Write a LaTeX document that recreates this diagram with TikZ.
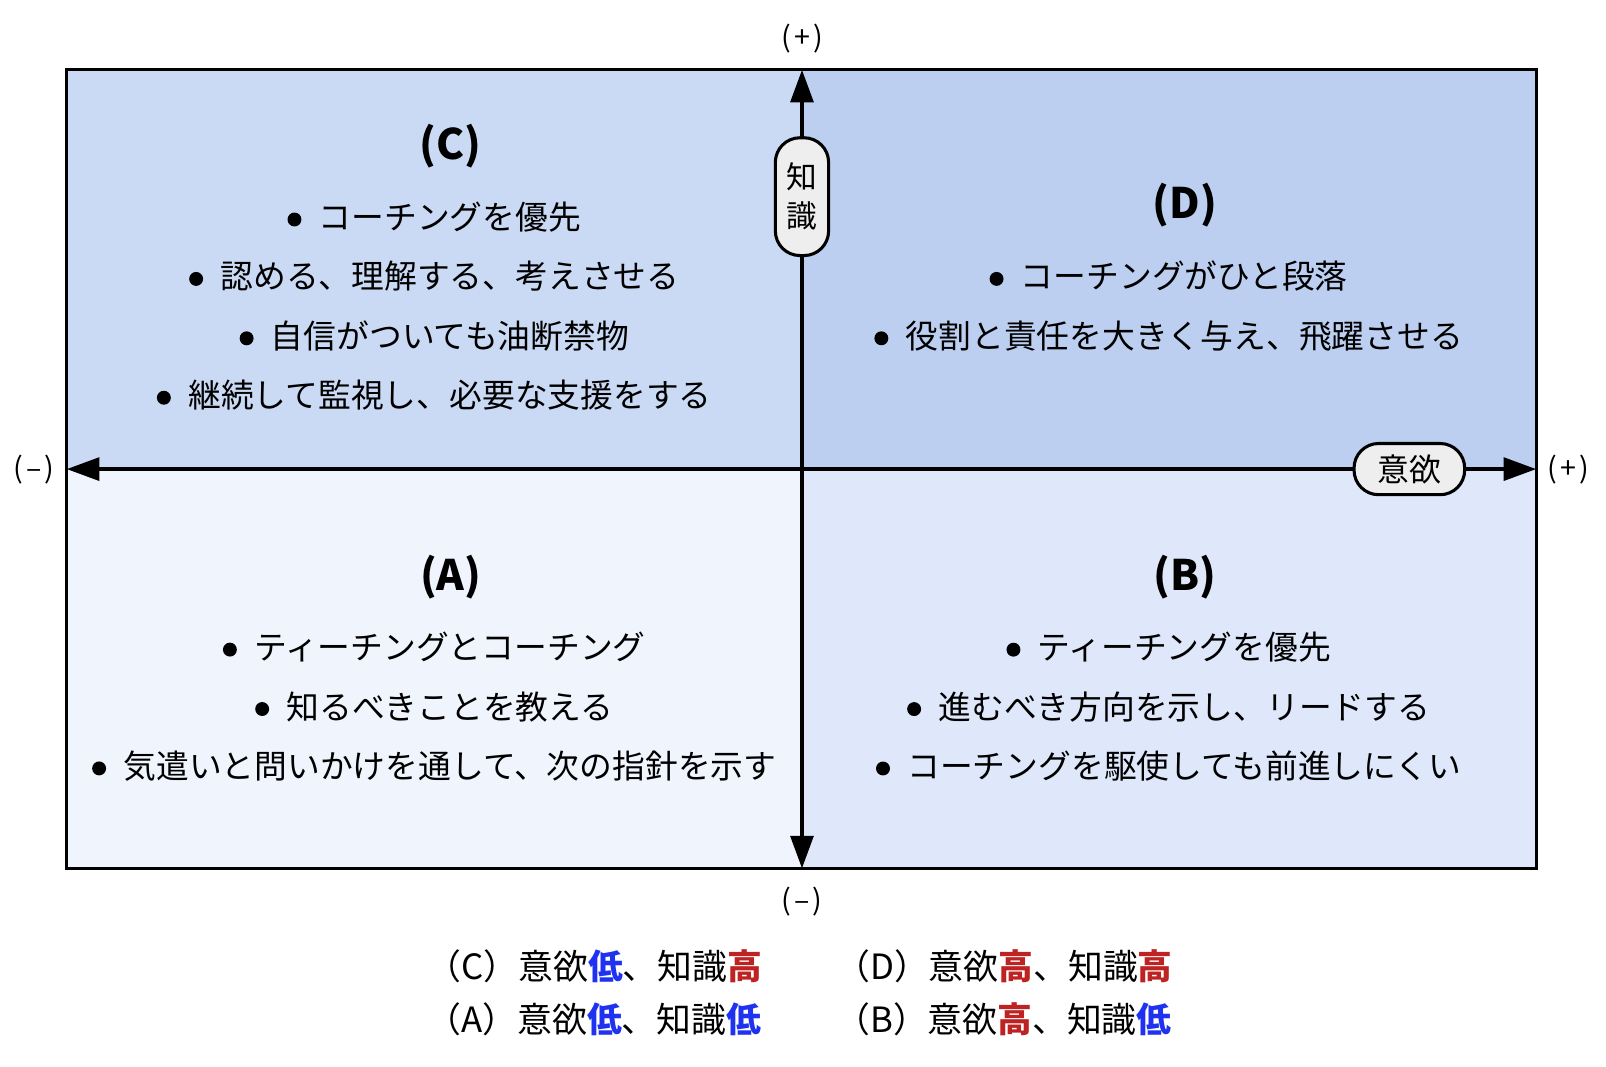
\documentclass[tikz,border=0pt]{standalone}
\usepackage{fontspec}
\setmainfont{Noto Sans CJK JP}
\usetikzlibrary{arrows.meta}
\definecolor{colA}{RGB}{240,244,253}
\definecolor{colB}{RGB}{223,232,250}
\definecolor{colC}{RGB}{203,218,244}
\definecolor{colD}{RGB}{188,207,240}
\definecolor{colPill}{RGB}{238,238,238}
\definecolor{colLow}{RGB}{30,50,240}
\definecolor{colHigh}{RGB}{190,35,35}
\newcommand{\lowtxt}{\textcolor{colLow}{\bfseries 低}}
\newcommand{\hightxt}{\textcolor{colHigh}{\bfseries 高}}
\newcommand{\itm}{\raisebox{3pt}{\tikz\fill (0,0) circle (6.8pt);}\hspace{17pt}}
\newcommand{\sgn}[1]{(\kern3pt#1\kern3pt)}

\begin{document}
\begin{tikzpicture}[
		x=1pt,y=-1pt,
		axis/.style={line width=4.5pt,{Triangle[length=32pt,width=22pt]}-{Triangle[length=32pt,width=22pt]}},
		pill/.style={draw,line width=3pt,fill=colPill,rounded corners=24pt,inner sep=0pt},
		sign/.style={font=\fontsize{28}{30}\selectfont},
		head/.style={font=\fontsize{41}{44}\selectfont\bfseries},
		items/.style={align=center,font=\fontsize{32}{58}\selectfont},
		legend/.style={anchor=west,font=\fontsize{34}{36}\selectfont}
	]
	\useasboundingbox (0,0) rectangle (1568,1041);

	%quadrants
		\foreach \x/\y/\c in {65/68/C, 783/68/D, 65/458/A, 783/458/B}
			\fill[col\c] (\x,\y) rectangle ++(718,390);
		\draw[line width=3pt] (65,68) rectangle (1500,848);

	%axes
		\coordinate (W) at (65,458);
		\coordinate (E) at (1500,458);
		\coordinate (N) at (783,68);
		\coordinate (S) at (783,848);
		\draw[axis] (W) -- (E);
		\draw[axis] (S) -- (N);
		\node[pill,minimum width=52pt,minimum height=115pt,align=center,font=\fontsize{30}{38}\selectfont] (know) at (783,192) {知\\識};
		\node[pill,minimum width=108pt,minimum height=50pt,font=\fontsize{31}{33}\selectfont] (will) at (1376,458) {意欲};
		\node[sign] (Np) at (783,38) {\sgn{+}};
		\node[sign] (Sm) at (783,880) {\sgn{–}};
		\node[sign] (Wm) at (33,458) {\sgn{–}};
		\node[sign] (Ep) at (1531,458) {\sgn{+}};

	%quadrant texts
		\node[head] (hC) at (440,143) {(C)};
		\node[items] (tC) at (424,299) {\itm コーチングを優先\\\itm 認める、理解する、考えさせる\\\itm 自信がついても油断禁物\\\itm 継続して監視し、必要な支援をする};
		\node[head] (hD) at (1157,200) {(D)};
		\node[items] (tD) at (1141,299) {\itm コーチングがひと段落\\\itm 役割と責任を大きく与え、飛躍させる};
		\node[head] (hA) at (440,563) {(A)};
		\node[items] (tA) at (424,690) {\itm ティーチングとコーチング\\\itm 知るべきことを教える\\\itm 気遣いと問いかけを通して、次の指針を示す};
		\node[head] (hB) at (1157,563) {(B)};
		\node[items] (tB) at (1141,690) {\itm ティーチングを優先\\\itm 進むべき方向を示し、リードする\\\itm コーチングを駆使しても前進しにくい};

	%legend
		\foreach \n/\x/\y/\m/\k in {C/413/943/\lowtxt/\hightxt, D/812/943/\hightxt/\hightxt, A/413/995/\lowtxt/\lowtxt, B/812/995/\hightxt/\lowtxt}
			\node[legend] (leg\n) at (\x,\y) {（\n）意欲\m、知識\k};
\end{tikzpicture}
\end{document}
